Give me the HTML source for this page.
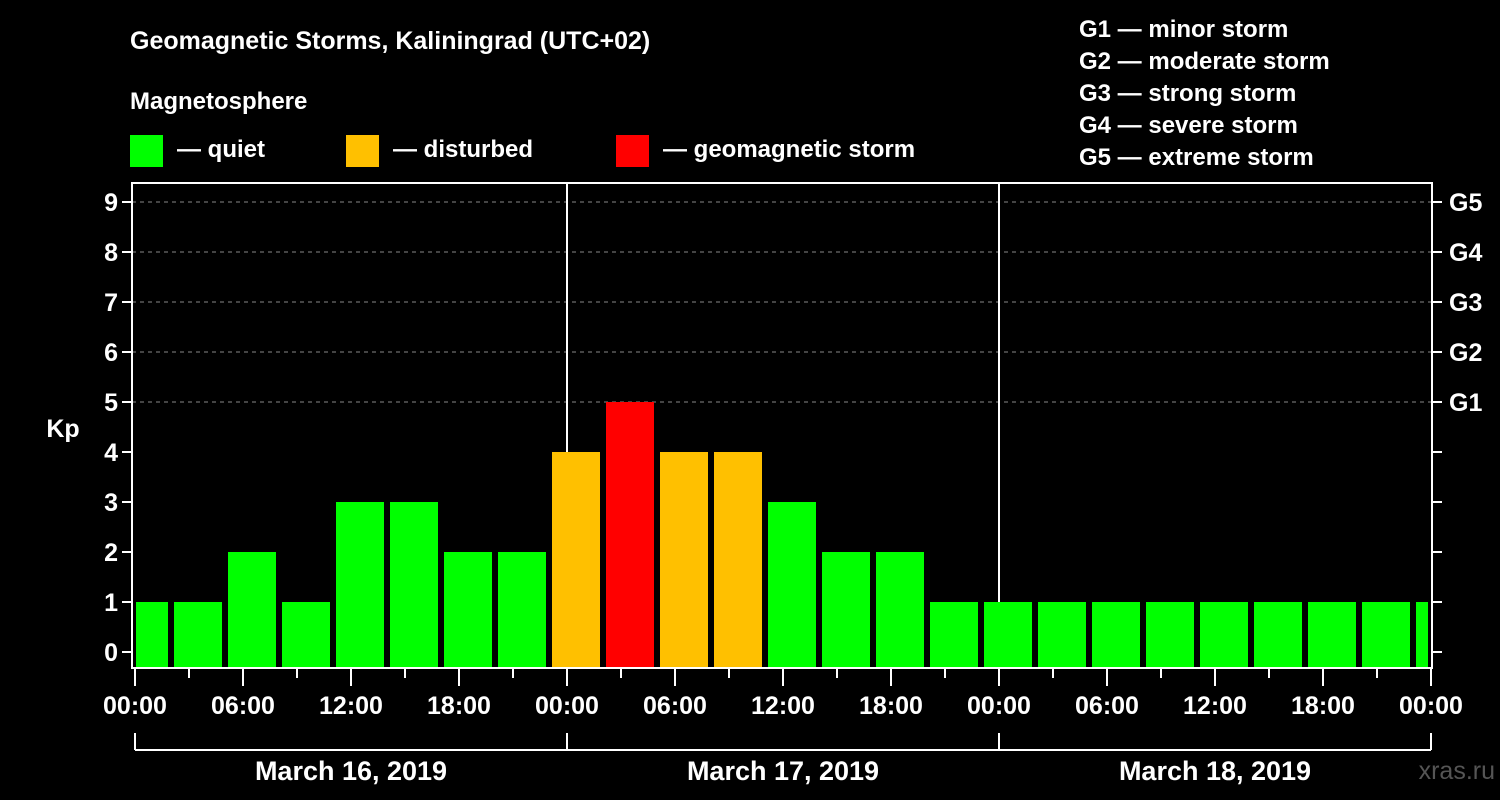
<!DOCTYPE html>
<html><head><meta charset="utf-8"><style>
body{margin:0;background:#000;}
svg{display:block;font-family:"Liberation Sans",Arial,sans-serif;font-weight:bold;}
</style></head><body>
<svg id="c" width="1500" height="800" viewBox="0 0 1500 800">
<rect width="1500" height="800" fill="#000"/>
<text x="130" y="49" fill="#fff" font-size="25">Geomagnetic Storms, Kaliningrad (UTC+02)</text>
<text x="130" y="109" fill="#fff" font-size="24">Magnetosphere</text>
<g><rect x="130" y="135" width="33" height="32" fill="#00ff00"/><text x="177" y="157" fill="#fff" font-size="24">— quiet</text></g>
<g><rect x="346" y="135" width="33" height="32" fill="#ffc000"/><text x="393" y="157" fill="#fff" font-size="24">— disturbed</text></g>
<g><rect x="616" y="135" width="33" height="32" fill="#ff0000"/><text x="663" y="157" fill="#fff" font-size="24">— geomagnetic storm</text></g>
<g fill="#fff" font-size="24">
<text x="1079" y="37">G1 — minor storm</text>
<text x="1079" y="69">G2 — moderate storm</text>
<text x="1079" y="101">G3 — strong storm</text>
<text x="1079" y="133">G4 — severe storm</text>
<text x="1079" y="165">G5 — extreme storm</text>
</g>
<text x="63" y="437" fill="#fff" font-size="25" text-anchor="middle">Kp</text>
<g id="grid"></g><g id="bars"></g><g id="axes"></g>
<text x="1495" y="779" fill="#555" font-size="25" text-anchor="end" font-weight="normal">xras.ru</text>
</svg>
<script>
const kpValues=[1,1,2,1,3,3,2,2,4,5,4,4,3,2,2,1,1,1,1,1,1,1,1,1,1];
const yTicks=[0,1,2,3,4,5,6,7,8,9];
const gLabels=["G1","G2","G3","G4","G5"];
const gLevels=[5,6,7,8,9];
const xTickLabels=["00:00","06:00","12:00","18:00","00:00","06:00","12:00","18:00","00:00","06:00","12:00","18:00","00:00"];
const dayLabels=["March 16, 2019","March 17, 2019","March 18, 2019"];
const NS="http://www.w3.org/2000/svg";
const L=132,R=1432,T=183,B=668,X0=135,HOUR=18;
const y=v=>652-v*50;
const x=h=>X0+h*HOUR;
function mk(p,tag,a){const e=document.createElementNS(NS,tag);for(const k in a)e.setAttribute(k,a[k]);p.appendChild(e);return e;}
const grid=document.getElementById('grid'),bars=document.getElementById('bars'),axes=document.getElementById('axes');
yTicks.forEach(v=>{if(v>=5){const g=mk(grid,'line',{x1:L,x2:R,y1:y(v),y2:y(v),stroke:'#888','stroke-dasharray':'4,4','stroke-width':1});

}});
[1,2].forEach(d=>{const l=mk(grid,'line',{x1:x(24*d),x2:x(24*d),y1:T,y2:B,stroke:'#fff','stroke-width':2});

});
const colorFor=v=>v>=5?'#ff0000':v>=4?'#ffc000':'#00ff00';
kpValues.forEach((v,i)=>{
 let x1=x(i*3-1)+3,x2=x1+48;
 x1=Math.max(x1,L+4);x2=Math.min(x2,R-4);
 const r=mk(bars,'rect',{x:x1,y:y(v),width:x2-x1,height:B-y(v),fill:colorFor(v)});
 
 
});
mk(axes,'rect',{x:L,y:T,width:R-L,height:B-T,fill:'none',stroke:'#fff','stroke-width':2});
yTicks.forEach(v=>{
 mk(axes,'line',{x1:L-10,x2:L,y1:y(v),y2:y(v),stroke:'#fff','stroke-width':2});
 mk(axes,'line',{x1:R,x2:R+10,y1:y(v),y2:y(v),stroke:'#fff','stroke-width':2});
 const t=mk(axes,'text',{x:L-14,y:y(v)+9,fill:'#fff','font-size':25,'text-anchor':'end'});t.textContent=v;
 
 
});
gLabels.forEach((g,i)=>{const t=mk(axes,'text',{x:1449,y:y(gLevels[i])+9,fill:'#fff','font-size':25});t.textContent=g;
 
 });
for(let h=0;h<=72;h+=3){const maj=h%6===0;mk(axes,'line',{x1:x(h),x2:x(h),y1:B,y2:B+(maj?18:10),stroke:'#fff','stroke-width':2});}
xTickLabels.forEach((s,i)=>{const t=mk(axes,'text',{x:x(i*6),y:714,fill:'#fff','font-size':25,'text-anchor':'middle'});t.textContent=s;
 
 });
mk(axes,'line',{x1:x(0),x2:x(72),y1:750,y2:750,stroke:'#fff','stroke-width':2});
for(let d=0;d<=3;d++)mk(axes,'line',{x1:x(24*d),x2:x(24*d),y1:733,y2:750,stroke:'#fff','stroke-width':2});
dayLabels.forEach((s,i)=>{const t=mk(axes,'text',{x:x(24*i+12),y:780,fill:'#fff','font-size':27,'text-anchor':'middle'});t.textContent=s;
 
 });
</script>
</body></html>
